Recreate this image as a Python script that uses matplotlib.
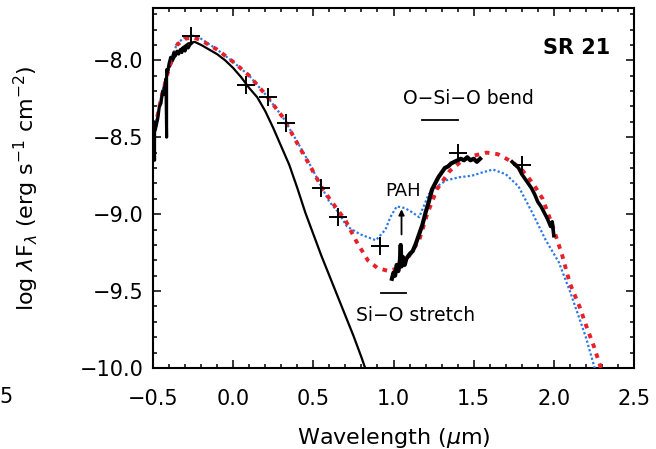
import matplotlib
matplotlib.use("Agg")
import matplotlib.pyplot as plt
from matplotlib.ticker import MultipleLocator

# stellar photosphere (log wavelength, log lambda F_lambda)
phot_x = [-0.50, -0.47, -0.44, -0.40, -0.36, -0.32, -0.28, -0.24, -0.20, -0.15, -0.10, -0.05,
          0.00, 0.05, 0.10, 0.15, 0.20, 0.25, 0.30, 0.35, 0.40, 0.45, 0.50, 0.55, 0.60, 0.65,
          0.70, 0.75, 0.80, 0.83]
phot_y = [-8.55, -8.35, -8.20, -8.05, -7.97, -7.92, -7.89, -7.88, -7.90, -7.93, -7.96, -8.00,
          -8.05, -8.11, -8.18, -8.24, -8.33, -8.44, -8.56, -8.68, -8.83, -8.99, -9.13, -9.27,
          -9.40, -9.53, -9.66, -9.79, -9.93, -10.02]

# models
red_x = [-0.50, -0.45, -0.40, -0.35, -0.30, -0.25, -0.20, -0.10, 0.00, 0.10, 0.20, 0.31, 0.40,
         0.46, 0.56, 0.65, 0.70, 0.77, 0.84, 0.90, 0.97, 1.03, 1.08, 1.16, 1.21, 1.27, 1.35,
         1.43, 1.50, 1.58, 1.65, 1.74, 1.80, 1.87, 1.93, 1.99, 2.05, 2.10, 2.16, 2.20, 2.25, 2.30]
red_y = [-8.50, -8.25, -8.05, -7.90, -7.86, -7.85, -7.87, -7.93, -8.01, -8.10, -8.22, -8.37, -8.54,
         -8.65, -8.84, -8.97, -9.04, -9.18, -9.30, -9.35, -9.37, -9.35, -9.30, -9.17, -9.00, -8.84, -8.72,
         -8.65, -8.62, -8.60, -8.61, -8.66, -8.71, -8.80, -8.90, -9.07, -9.26, -9.45, -9.60, -9.72, -9.86, -10.02]

blue_x = [-0.50, -0.45, -0.40, -0.35, -0.30, -0.25, -0.20, -0.10, 0.00, 0.10, 0.20, 0.31, 0.40,
          0.46, 0.56, 0.60, 0.65, 0.71, 0.79, 0.89, 0.95, 0.98, 1.02, 1.07, 1.12, 1.16, 1.18, 1.22,
          1.27, 1.33, 1.41, 1.49, 1.55, 1.62, 1.70, 1.78, 1.87, 1.95, 2.03, 2.10, 2.14, 2.20, 2.26]
blue_y = [-8.48, -8.24, -8.04, -7.89, -7.85, -7.84, -7.86, -7.93, -8.01, -8.10, -8.22, -8.37, -8.53,
          -8.64, -8.84, -8.92, -8.98, -9.08, -9.13, -9.17, -9.10, -9.02, -8.95, -8.96, -8.99, -9.02, -8.97, -8.87,
          -8.82, -8.78, -8.76, -8.75, -8.73, -8.71, -8.74, -8.82, -9.00, -9.17, -9.31, -9.50, -9.62, -9.80, -10.02]

# observed spectra
opt_x = [-0.50, -0.495, -0.49, -0.49, -0.485, -0.47, -0.46, -0.45, -0.44, -0.43, -0.42, -0.415,
         -0.415, -0.41, -0.40, -0.39, -0.38, -0.37, -0.36, -0.35, -0.34, -0.33, -0.32, -0.31,
         -0.30, -0.29, -0.28, -0.27, -0.26]
opt_y = [-8.55, -8.45, -8.65, -8.40, -8.45, -8.38, -8.30, -8.28, -8.20, -8.22, -8.12, -8.50,
         -8.06, -8.08, -8.02, -7.98, -7.99, -7.95, -7.97, -7.94, -7.96, -7.93, -7.95, -7.92,
         -7.94, -7.91, -7.92, -7.90, -7.89]

irs_x = [0.99, 1.00, 1.01, 1.02, 1.03, 1.04, 1.045, 1.05, 1.06, 1.07, 1.08, 1.10, 1.12, 1.14, 1.16,
         1.18, 1.20, 1.22, 1.24, 1.26, 1.28, 1.30, 1.32, 1.34, 1.36, 1.38, 1.40, 1.42, 1.44, 1.46,
         1.48, 1.50, 1.52, 1.54]
irs_y = [-9.42, -9.38, -9.40, -9.33, -9.37, -9.30, -9.20, -9.34, -9.28, -9.33, -9.29, -9.26, -9.24,
         -9.19, -9.13, -9.07, -8.99, -8.92, -8.84, -8.80, -8.76, -8.73, -8.70, -8.69, -8.67, -8.66,
         -8.65, -8.64, -8.65, -8.63, -8.65, -8.64, -8.66, -8.64]

far_x = [1.74, 1.76, 1.78, 1.80, 1.82, 1.84, 1.86, 1.88, 1.90, 1.92, 1.94, 1.96, 1.98, 1.99, 2.00]
far_y = [-8.66, -8.68, -8.70, -8.74, -8.77, -8.80, -8.83, -8.87, -8.92, -8.95, -8.99, -9.03,
         -9.08, -9.05, -9.14]

# photometry
pts_x = [-0.26, 0.083, 0.218, 0.33, 0.55, 0.652, 0.913, 1.40, 1.80]
pts_y = [-7.84, -8.16, -8.24, -8.41, -8.83, -9.02, -9.21, -8.60, -8.68]

plt.rcParams['font.family'] = ['DejaVu Sans']
fig = plt.figure(figsize=(6.56, 4.49), dpi=100)
ax = fig.add_axes([153/656, 81/449, 481/656, 360/449])

ax.plot(phot_x, phot_y, color='black', lw=1.6, zorder=3)
ax.plot(blue_x, blue_y, color='#2b78e4', lw=1.6, ls=(0, (1, 1)), zorder=4)
ax.plot(red_x, red_y, color='#e8202a', lw=2.8, ls=(0, (1.2, 1.5)), zorder=5)
ax.plot(opt_x, opt_y, color='black', lw=2.2, zorder=6)
ax.plot(irs_x, irs_y, color='black', lw=3.0, zorder=6)
ax.plot(far_x, far_y, color='black', lw=2.6, zorder=6)
ax.plot(pts_x, pts_y, ls='none', marker='+', ms=13, mew=1.4, color='black', zorder=7)

# feature annotations
ax.text(1.47, -8.25, 'O\u2212Si\u2212O bend', ha='center', va='center', fontsize=13.5)
ax.plot([1.18, 1.40], [-8.385, -8.385], color='black', lw=1.3)
ax.text(1.057, -8.85, 'PAH', ha='center', va='center', fontsize=13)
ax.annotate('', xy=(1.05, -8.95), xytext=(1.05, -9.15),
            arrowprops=dict(arrowstyle='-|>', color='black', lw=1.3, mutation_scale=8))
ax.plot([0.924, 1.08], [-9.51, -9.51], color='black', lw=1.3)
ax.text(1.14, -9.66, 'Si\u2212O stretch', ha='center', va='center', fontsize=13.5)
ax.text(2.14, -7.92, 'SR 21', ha='center', va='center', fontsize=15, fontweight='bold')

ax.set_xlim(-0.5, 2.5)
ax.set_ylim(-10.0, -7.66)
ax.xaxis.set_major_locator(MultipleLocator(0.5))
ax.xaxis.set_minor_locator(MultipleLocator(0.1))
ax.yaxis.set_major_locator(MultipleLocator(0.5))
ax.yaxis.set_minor_locator(MultipleLocator(0.1))
ax.tick_params(which='both', direction='in', top=True, right=True, width=1.1, labelsize=15)
ax.tick_params(which='major', length=6)
ax.tick_params(which='minor', length=3)
ax.tick_params(axis='x', pad=15)
ax.tick_params(axis='y', pad=7)
for s in ax.spines.values():
    s.set_linewidth(1.5)

ax.set_xlabel('Wavelength ($\\mu$m)', fontsize=16)
ax.set_ylabel('log $\\lambda$F$_\\lambda$ (erg s$^{-1}$ cm$^{-2}$)', fontsize=16)
ax.xaxis.set_label_coords(0.5, -0.16)
ax.yaxis.set_label_coords(-0.233, 0.5)

# stray label from neighbouring panel
fig.text(6/656, 1 - 397/449, '5', ha='center', va='center', fontsize=15)

fig.savefig('out.png', dpi=100)
